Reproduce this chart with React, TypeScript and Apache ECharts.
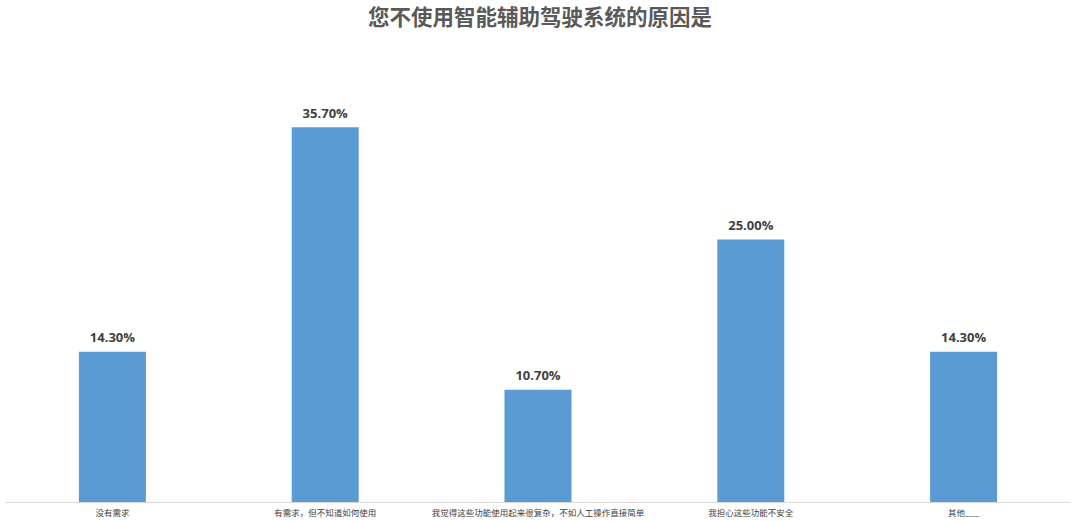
import { useEffect, useRef } from 'react';
import * as echarts from 'echarts';

const title = '您不使用智能辅助驾驶系统的原因是';
const categories = [
  '没有需求',
  '有需求，但不知道如何使用',
  '我觉得这些功能使用起来很复杂，不如人工操作直接简单',
  '我担心这些功能不安全',
  '其他___',
];
const percents = [14.3, 35.7, 10.7, 25.0, 14.3];

const FONT = '"Noto Sans CJK SC", "Microsoft YaHei", sans-serif';

export default function App() {
  const chartRef = useRef<HTMLDivElement>(null);

  useEffect(() => {
    if (!chartRef.current) return;
    const chart = echarts.init(chartRef.current, undefined, { renderer: 'svg' });

    const option: echarts.EChartsOption = {
      animation: false,
      backgroundColor: '#ffffff',
      title: {
        text: title,
        left: 'center',
        top: 0,
        textStyle: {
          fontFamily: FONT,
          fontSize: 21.5,
          fontWeight: 'bold',
          color: '#595959',
        },
      },
      grid: {
        left: 6,
        right: 10,
        top: 82,
        bottom: 19,
        containLabel: false,
      },
      xAxis: {
        type: 'category',
        data: categories,
        axisLine: { lineStyle: { color: '#d9d9d9', width: 1 } },
        axisTick: { show: false },
        axisLabel: {
          interval: 0,
          margin: 6,
          fontFamily: FONT,
          fontSize: 8.5,
          color: '#404040',
        },
      },
      yAxis: {
        type: 'value',
        min: 0,
        max: 40,
        show: false,
        splitLine: { show: false },
      },
      series: [
        {
          type: 'bar',
          data: percents,
          barWidth: '31.5%',
          itemStyle: { color: '#5b9bd5' },
          label: {
            show: true,
            position: 'top',
            distance: 8,
            formatter: (p: any) => `${Number(p.value).toFixed(2)}%`,
            fontFamily: '"Open Sans", "Noto Sans", sans-serif',
            fontSize: 13,
            fontWeight: 'bold',
            color: '#404040',
          },
        },
      ],
    };

    chart.setOption(option);

    return () => {
      chart.dispose();
    };
  }, []);

  return (
    <div
      ref={chartRef}
      style={{ position: 'absolute', left: 0, top: 0, width: '1080px', height: '521px' }}
    ></div>
  );
}
